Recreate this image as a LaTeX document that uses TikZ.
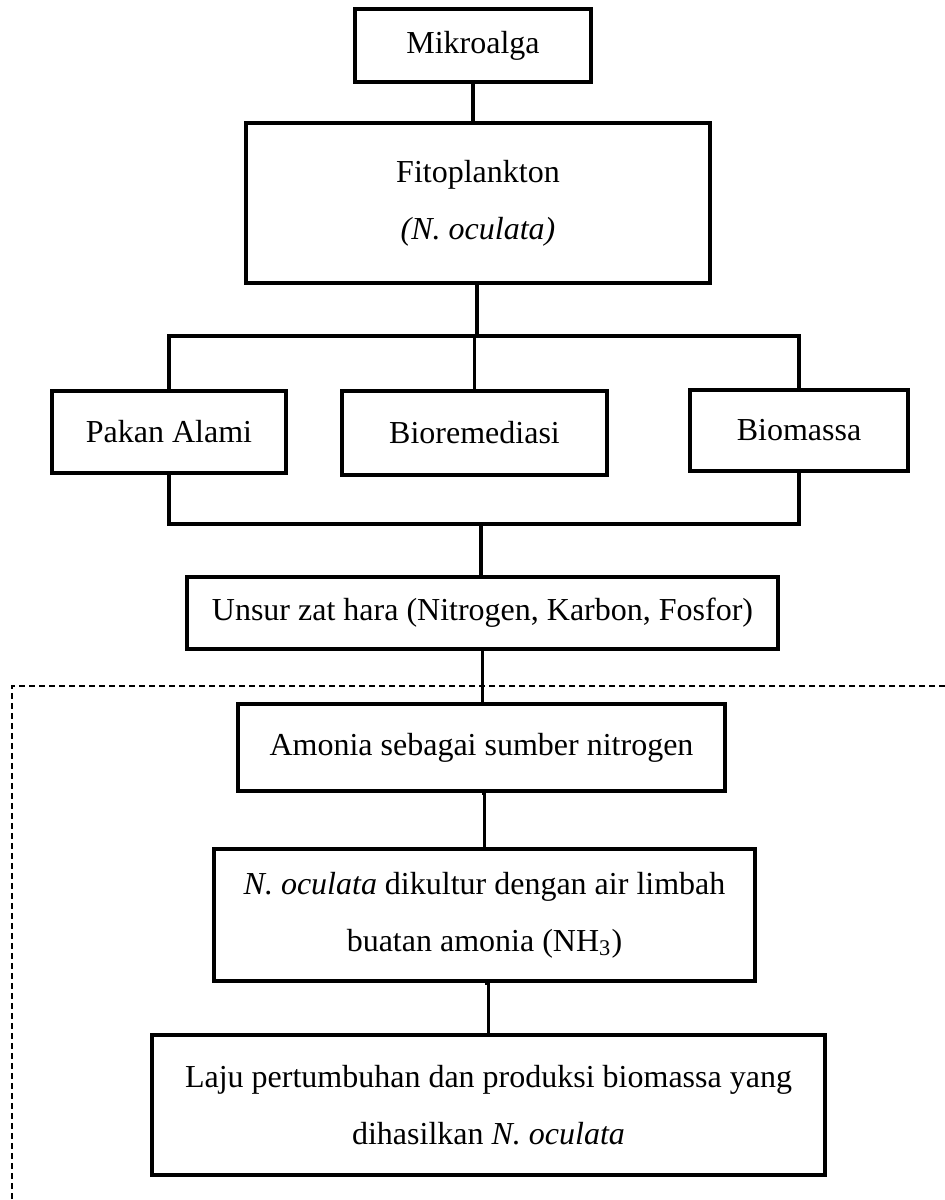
\documentclass[tikz,border=0pt]{standalone}
\usepackage{fontspec}
\setmainfont{Liberation Serif}
\usepackage{tikz}

\begin{document}
\begin{tikzpicture}[x=0.4pt,y=-0.4pt,
  box/.style={draw, line width=1.7pt, inner sep=0pt, align=center, font=\fontsize{12.8}{22.8}\selectfont},
  link/.style={line width=1.3pt}]
\useasboundingbox (0,0) rectangle (945,1200);
\node[box, minimum width=94.4pt, minimum height=29.2pt] (mikro) at (473,45.5) {Mikroalga};
\node[box, minimum width=185.6pt, minimum height=64pt] (fito) at (478,203) {Fitoplankton\\\textit{(N. oculata)}};
\node[box, minimum width=93.6pt, minimum height=32.8pt] (pakan) at (169,432) {Pakan Alami};
\node[box, minimum width=106pt, minimum height=33.6pt] (bioremediasi) at (474.5,433) {Bioremediasi};
\node[box, minimum width=87.2pt, minimum height=32.4pt] (biomassa) at (799,430.5) {Biomassa};
\node[box, minimum width=236.4pt, minimum height=28.8pt] (unsur) at (482.5,613) {Unsur zat hara (Nitrogen, Karbon, Fosfor)};
\node[box, minimum width=194.8pt, minimum height=34.8pt] (amonia) at (481.5,747.5) {Amonia sebagai sumber nitrogen};
\node[box, minimum width=216.4pt, minimum height=52.8pt] (kultur) at (484.5,915) {\textit{N. oculata} dikultur dengan air limbah\\buatan amonia (NH\textsubscript{3})};
\node[box, minimum width=269.2pt, minimum height=56pt] (laju) at (488.5,1105) {Laju pertumbuhan dan produksi biomassa yang\\dihasilkan \textit{N. oculata}};
\coordinate (topbar) at (477,336);
\coordinate (botbar) at (481,524);
\draw[link] (mikro.south) -- (mikro.south |- fito.north);
\draw[link] (topbar |- fito.south) -- (topbar);
\draw[link] (pakan.north) |- (biomassa.north |- topbar) -- (biomassa.north);
\draw[link] (bioremediasi.north) -- (bioremediasi.north |- topbar);
\draw[link] (pakan.south) |- (biomassa.south |- botbar) -- (biomassa.south);
\draw[link] (botbar) -- (botbar |- unsur.north);
\draw[link] (unsur.south) -- (unsur.south |- amonia.north);
\draw[link] (amonia.south) -- (amonia.south -| kultur.north) -- (kultur.north);
\draw[link] (kultur.south) -- (kultur.south -| laju.north) -- (laju.north);
\draw[line width=0.5pt, dash pattern=on 2.4pt off 1.6pt] (945,686) -| (12,1200);
\end{tikzpicture}
\end{document}
